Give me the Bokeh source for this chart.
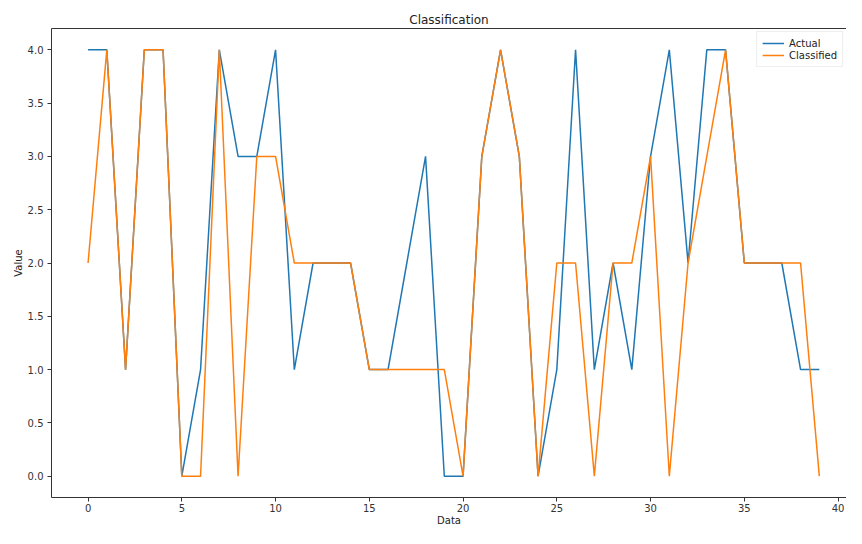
from bokeh.plotting import figure
from bokeh.models import LinearAxis, Range1d, FixedTicker, Legend, LegendItem
from bokeh.embed import file_html
from bokeh.resources import INLINE

x_index = list(range(40))
actual = [4, 4, 1, 4, 4, 0, 1, 4, 3, 3,
          4, 1, 2, 2, 2, 1, 1, 2, 3, 0,
          0, 3, 4, 3, 0, 1, 4, 1, 2, 1,
          3, 4, 2, 4, 4, 2, 2, 2, 1, 1]
classified = [2, 4, 1, 4, 4, 0, 0, 4, 0, 3,
              3, 2, 2, 2, 2, 1, 1, 1, 1, 1,
              0, 3, 4, 3, 0, 2, 2, 0, 2, 2,
              3, 0, 2, 3, 4, 2, 2, 2, 2, 0]
x_ticks = [0, 5, 10, 15, 20, 25, 30, 35, 40]
y_ticks = [0.0, 0.5, 1.0, 1.5, 2.0, 2.5, 3.0, 3.5, 4.0]

FONT = "DejaVu Sans"
AX = "#333333"

p = figure(width=846, height=528, output_backend="svg", toolbar_location=None,
           x_range=Range1d(-1.95, 40.45), y_range=Range1d(-0.2, 4.2),
           title="Classification", min_border_left=51, min_border_right=0,
           min_border_top=28, min_border_bottom=30)
p.title.align = "center"
p.title.text_font = FONT
p.title.text_font_size = "12px"
p.title.text_font_style = "normal"
p.title.text_color = "#222222"
p.title.standoff = 4

p.xgrid.visible = False
p.ygrid.visible = False
p.outline_line_color = None

r1 = p.line(x_index, actual, line_color="#1f77b4", line_width=1.5)
r2 = p.line(x_index, classified, line_color="#ff7f0e", line_width=1.5)

for ax in (p.xaxis[0], p.yaxis[0]):
    ax.axis_line_color = AX
    ax.major_tick_line_color = AX
    ax.minor_tick_line_color = None
    ax.major_tick_out = 4
    ax.major_tick_in = 0
    ax.major_label_text_font = FONT
    ax.major_label_text_font_size = "10px"
    ax.major_label_text_color = "#333333"
    ax.axis_label_text_font = FONT
    ax.axis_label_text_font_size = "10px"
    ax.axis_label_text_font_style = "normal"
    ax.axis_label_text_color = "#222222"

p.xaxis[0].ticker = FixedTicker(ticks=x_ticks)
p.yaxis[0].ticker = FixedTicker(ticks=y_ticks)
p.yaxis[0].major_label_overrides = {v: f"{v:.1f}" for v in y_ticks}
p.xaxis[0].axis_label = "Data"
p.xaxis[0].major_label_standoff = 2
p.xaxis[0].axis_label_standoff = 0
p.yaxis[0].axis_label = "Value"
p.yaxis[0].axis_label_standoff = 1
p.yaxis[0].major_label_standoff = 4

top = LinearAxis(axis_line_color=AX, major_tick_line_color=None,
                 minor_tick_line_color=None, major_label_text_font_size="0px",
                 ticker=FixedTicker(ticks=[]))
p.add_layout(top, "above")

legend = Legend(items=[LegendItem(label="Actual", renderers=[r1]),
                       LegendItem(label="Classified", renderers=[r2])],
                location="top_right")
legend.label_text_font = FONT
legend.label_text_font_size = "10px"
legend.label_text_color = "#222222"
legend.border_line_color = "#dddddd"
legend.background_fill_alpha = 0.85
legend.glyph_width = 22
legend.glyph_height = 12
legend.spacing = 0
legend.padding = 5
legend.margin = 3
legend.label_height = 12
p.add_layout(legend)

open("out.html", "w").write(file_html(p, INLINE))
